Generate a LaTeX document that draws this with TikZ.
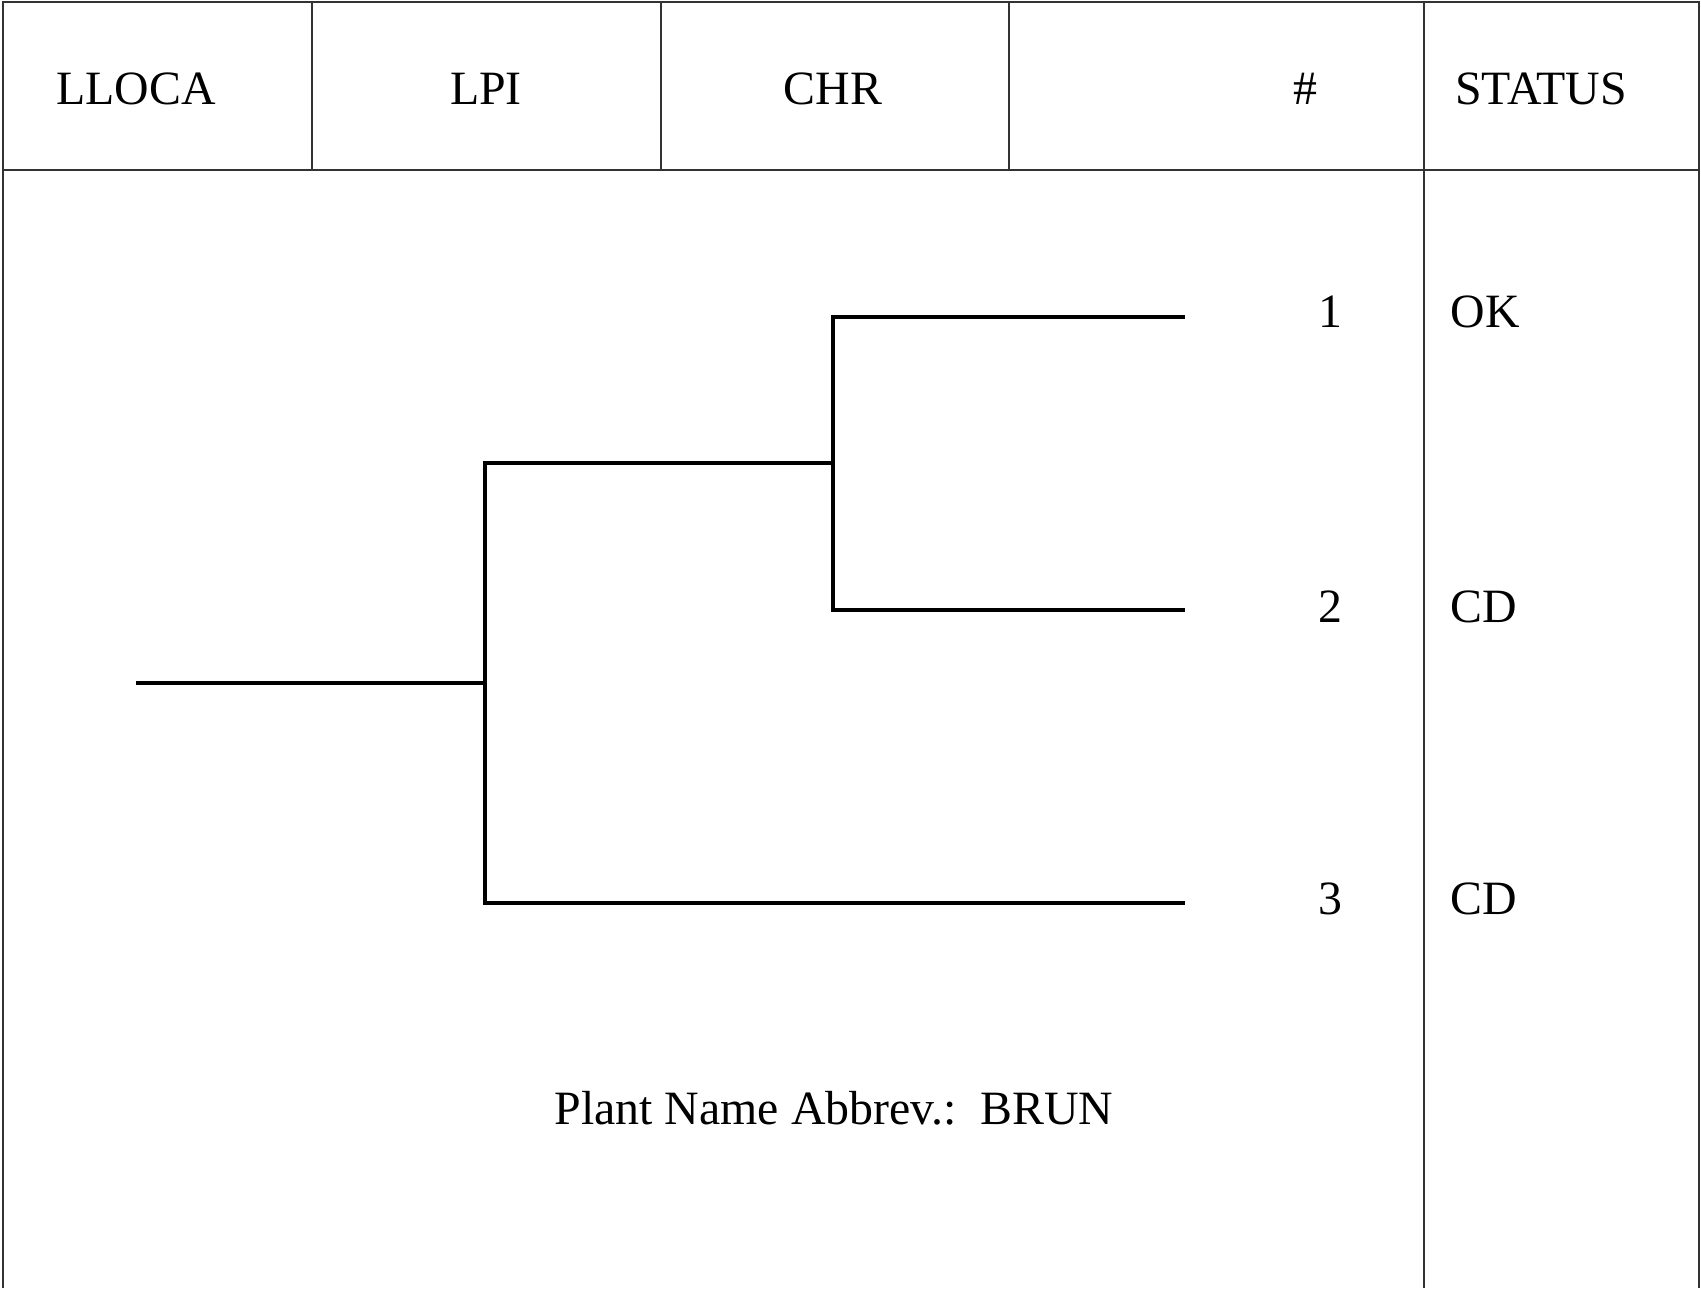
\documentclass[tikz,border=0pt]{standalone}
\usepackage{fontspec}
\setmainfont{Liberation Serif}
\usepackage{tikz}
\usetikzlibrary{calc}

\tikzset{
    grid/.style={line width=0.5pt, draw=black!80},
    branch/.style={line width=1.3pt},
    lbl/.style={anchor=base, inner sep=0pt, font=\fontsize{13.6}{16}\selectfont},
}

\begin{document}
\begin{tikzpicture}[x=0.01cm, y=-0.01cm]
    \useasboundingbox (0,0) rectangle (1701,1288);

    % table
    \draw[grid] (3,1288) -- (3,2) -- (1699,2) -- (1699,1288);
    \draw[grid] (3,170) -- (1699,170);
    \foreach \x in {312, 661, 1009}
        \draw[grid] (\x,2) -- (\x,170);
    \draw[grid] (1424,2) -- (1424,1288);

    \node[lbl] (lloca) at (136,105) {LLOCA};
    \node[lbl] (lpi) at (486,105) {LPI};
    \node[lbl] (chr) at (833,105) {CHR};
    \node[lbl] (num) at (1305,105) {\#};
    \node[lbl] (status) at (1541,105) {STATUS};

    % tree
    \coordinate (root) at (136,683);
    \coordinate (A) at (485,683);
    \coordinate (Atop) at (485,463);
    \coordinate (Abot) at (485,903);
    \coordinate (B) at (833,463);
    \coordinate (Btop) at (833,317);
    \coordinate (Bbot) at (833,610);
    \coordinate (L1) at (1185,317);
    \coordinate (L2) at (1185,610);
    \coordinate (L3) at (1185,903);

    \draw[branch] (root) -- (A);
    \draw[branch, line cap=rect] (Atop) -- (Abot);
    \draw[branch] (Atop) -- (B);
    \draw[branch, line cap=rect] (Btop) -- (Bbot);
    \draw[branch] (Btop) -- (L1);
    \draw[branch] (Bbot) -- (L2);
    \draw[branch] (Abot) -- (L3);

    \node[lbl] (n1) at (1330,327) {1};
    \node[lbl] (n2) at (1330,622) {2};
    \node[lbl] (n3) at (1330,914) {3};
    \node[lbl, anchor=base west] (s1) at (1450,327) {OK};
    \node[lbl, anchor=base west] (s2) at (1450,622) {CD};
    \node[lbl, anchor=base west] (s3) at (1450,914) {CD};

    \node[lbl] (plant) at (834,1124) {Plant Name Abbrev.:\ \ BRUN};
\end{tikzpicture}
\end{document}
